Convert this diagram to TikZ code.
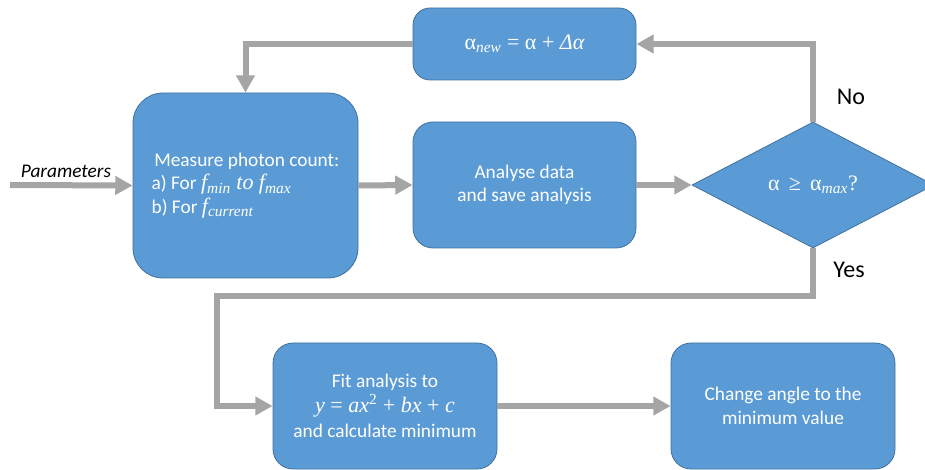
\documentclass[tikz,border=0pt]{standalone}
\usepackage{fontspec}
\setmainfont{Carlito}
\newfontfamily\mfont{Liberation Serif}
\usetikzlibrary{arrows.meta,shapes.geometric}
\definecolor{boxblue}{HTML}{5B9BD5}
\definecolor{boxedge}{HTML}{41719C}
\definecolor{flowgray}{HTML}{A5A5A5}
% formula pieces set in a serif text face
\newcommand{\fmla}[1]{{\mfont\fontsize{16.5}{18}\selectfont #1}}
\newcommand{\fvar}[1]{{\mfont\itshape #1}}
\newcommand{\fsub}[1]{\textsubscript{\mfont\itshape #1}}
\tikzset{
  procbox/.style={draw=boxedge, line width=0.6pt, fill=boxblue, text=white,
    align=center, inner sep=2pt,
    font=\fontsize{14.5}{17.5}\selectfont},
  decision/.style={diamond, draw=boxedge, line width=0.6pt, fill=boxblue,
    text=white, inner sep=0pt, font=\fontsize{14.5}{17.5}\selectfont},
  flow/.style={draw=flowgray, line width=4.5pt,
    -{Triangle[length=13pt,width=13.5pt]}},
  lbl/.style={font=\fontsize{18}{21}\selectfont, text=black}
}
\begin{document}
\begin{tikzpicture}[x=0.75pt,y=-0.75pt]
\useasboundingbox (0,0) rectangle (925,470);

% process boxes
\node[procbox, minimum width={225*0.75pt}, minimum height={185*0.75pt},
  rounded corners={30*0.75pt}, align=left] (meas) at (245.5,185.5)
  {\hspace{2pt}Measure photon count:\\
   a) For \fmla{\fvar{f}\fsub{min} \fvar{to} \fvar{f}\fsub{max}}\\
   b) For \fmla{\fvar{f}\fsub{current}}};
\node[procbox, minimum width={223*0.75pt}, minimum height={72*0.75pt},
  rounded corners={17*0.75pt}] (upd) at (524.5,44)
  {\fmla{α\fsub{new} = α + \fvar{Δα}}};
\node[procbox, minimum width={223*0.75pt}, minimum height={126*0.75pt},
  rounded corners={20*0.75pt}] (ana) at (524.5,185)
  {Analyse data\\and save analysis};
\node[decision, minimum width={242*0.75pt}, minimum height={126*0.75pt}]
  (dia) at (813,185) {\fmla{α \,≥\, α\fsub{max}?}};
\node[procbox, minimum width={224*0.75pt}, minimum height={126*0.75pt},
  rounded corners={20*0.75pt}] (fit) at (385,406)
  {Fit analysis to\\[1.5pt]
   \fmla{\fvar{y} = \fvar{ax}\textsuperscript{2} + \fvar{bx} + \fvar{c}}\\[1pt]
   and calculate minimum};
\node[procbox, minimum width={224*0.75pt}, minimum height={126*0.75pt},
  rounded corners={20*0.75pt}] (chg) at (783,406)
  {Change angle to the\\minimum value};

% free ends and bends
\coordinate (pin) at (10,185);
\coordinate (turn) at (217,296);

% connectors
\draw[flow] (pin) -- (meas.west);
\draw[flow] (meas.east) -- (ana.west);
\draw[flow] (ana.east) -- (dia.west);
\draw[flow] (dia.north) |- (upd.east);
\draw[flow] (upd.west) -| (meas.north);
\draw[flow] (dia.south) |- (turn) |- (fit.west);
\draw[flow] (fit.east) -- (chg.west);

% labels
\node[font=\fontsize{14.5}{17}\selectfont\itshape] (par) at (66,171) {Parameters};
\node[lbl] (no) at (851,97) {No};
\node[lbl] (yes) at (849,270) {Yes};
\end{tikzpicture}
\end{document}
